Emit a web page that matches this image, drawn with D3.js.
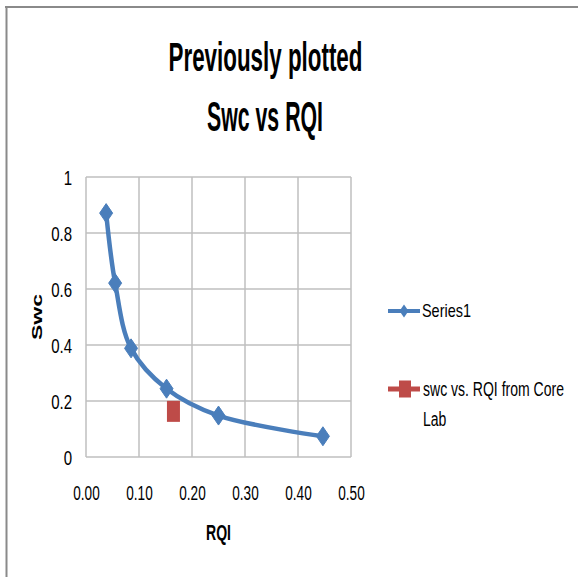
<!DOCTYPE html>
<html>
<head>
<meta charset="utf-8">
<script src="https://cdn.jsdelivr.net/npm/d3@7"></script>
<style>
  html, body { margin: 0; padding: 0; background: #fff; }
  svg { display: block; }
  text { font-family: "Liberation Sans", Arial, sans-serif; fill: #000; }
</style>
</head>
<body>
<svg id="chart" width="578" height="577"></svg>
<script>
// Swc vs RQI curve (Series1)
const rqiValues = [0.038, 0.055, 0.085, 0.152, 0.250, 0.447];
const swcValues = [0.871, 0.621, 0.388, 0.244, 0.148, 0.074];

// Core lab measurement
const coreRqi = [0.165];
const coreSwc = [0.163];

// Axis ticks
const xTicks = [0, 0.1, 0.2, 0.3, 0.4, 0.5];
const yTicks = [0, 0.2, 0.4, 0.6, 0.8, 1];

const titleLines = ["Previously plotted", "Swc vs RQI"];
const legendNames = ["Series1", "swc vs. RQI from Core Lab"];

const blue = "#4A7EBB";
const red = "#BE4B48";
const gridColor = "#BFBFBF";

const svg = d3.select("#chart");

// chart frame (top and left edges)
svg.append("line").attr("x1", 5).attr("x2", 578).attr("y1", 7).attr("y2", 7)
  .attr("stroke", "#8a8a8a").attr("stroke-width", 2);
svg.append("line").attr("x1", 6.5).attr("x2", 6.5).attr("y1", 6).attr("y2", 577)
  .attr("stroke", "#8a8a8a").attr("stroke-width", 2);

const x = d3.scaleLinear().domain([0, 0.5]).range([86, 351]);
const y = d3.scaleLinear().domain([0, 1]).range([457, 177]);

// stretch a text vertically about its own baseline point
function stretchY(sel, sy) {
  sel.each(function () {
    const t = d3.select(this);
    const tx = +t.attr("x") || 0, ty = +t.attr("y") || 0;
    t.attr("transform", `translate(${tx},${ty}) scale(1,${sy}) translate(${-tx},${-ty})`);
  });
}

// size a text to a given width, then stretch it to a given cap height
function fit(sel, width, cap) {
  let fs = 0;
  sel.each(function () {
    const t = d3.select(this).attr("font-size", 100);
    const len = this.getComputedTextLength();
    fs = 100 * width / len;
    t.attr("font-size", fs);
  });
  stretchY(sel, cap / (0.7 * fs));
  return fs;
}

// title
fit(svg.append("text").attr("x", 265.5).attr("y", 71).attr("text-anchor", "middle")
  .attr("font-weight", "bold").text(titleLines[0]), 194, 28);
fit(svg.append("text").attr("x", 265).attr("y", 131).attr("text-anchor", "middle")
  .attr("font-weight", "bold").text(titleLines[1]), 116, 29.5);

// gridlines
const grid = svg.append("g");
grid.selectAll("line.v").data(xTicks).join("line").attr("class", "v")
  .attr("x1", d => x(d)).attr("x2", d => x(d))
  .attr("y1", y(1)).attr("y2", y(0))
  .attr("stroke", gridColor).attr("stroke-width", 1.5);
grid.selectAll("line.h").data(yTicks).join("line").attr("class", "h")
  .attr("x1", x(0)).attr("x2", x(0.5))
  .attr("y1", d => y(d)).attr("y2", d => y(d))
  .attr("stroke", gridColor).attr("stroke-width", 1.5);

// axes (labels only, built from the scales)
const xAxis = svg.append("g").attr("transform", `translate(0,${y(0)})`)
  .call(d3.axisBottom(x).tickValues(xTicks).tickFormat(d3.format(".2f")).tickSize(0).tickPadding(0));
xAxis.select(".domain").remove();
xAxis.selectAll("text").attr("font-size", 13.6).attr("dy", 0).attr("y", 43)
  .style("font-family", '"Liberation Sans", Arial, sans-serif').attr("fill", "#000");
stretchY(xAxis.selectAll("text"), 1.55);

const yAxis = svg.append("g").attr("transform", `translate(72,0)`)
  .call(d3.axisLeft(y).tickValues(yTicks).tickFormat(d => String(+d.toFixed(1))).tickSize(0).tickPadding(0));
yAxis.select(".domain").remove();
yAxis.selectAll("text").attr("font-size", 15).attr("dy", 0).attr("x", 0).attr("y", 7)
  .style("font-family", '"Liberation Sans", Arial, sans-serif').attr("fill", "#000");
stretchY(yAxis.selectAll("text"), 1.32);

// axis titles
fit(svg.append("text").attr("x", (x(0) + x(0.5)) / 2).attr("y", 540).attr("text-anchor", "middle")
  .attr("font-weight", "bold").text("RQI"), 25, 15);
svg.append("text").attr("transform", `translate(42,${(y(0) + y(1)) / 2}) rotate(-90)`)
  .attr("text-anchor", "middle").attr("font-size", 14.5).attr("font-weight", "bold")
  .attr("textLength", 46).attr("lengthAdjust", "spacingAndGlyphs")
  .text("Swc");

// Series1 smoothed line
const pts = rqiValues.map((r, i) => [r, swcValues[i]]);
const line = d3.line().x(d => x(d[0])).y(d => y(d[1])).curve(d3.curveCatmullRom.alpha(0.5));
svg.append("path").attr("d", line(pts)).attr("fill", "none")
  .attr("stroke", blue).attr("stroke-width", 4.5).attr("stroke-linejoin", "round");

function diamond(w, h) {
  return `M0,${-h / 2}L${w / 2},0L0,${h / 2}L${-w / 2},0Z`;
}
svg.selectAll("path.mk").data(pts).join("path").attr("class", "mk")
  .attr("transform", d => `translate(${x(d[0])},${y(d[1])})`)
  .attr("d", diamond(13, 19)).attr("fill", blue).attr("stroke", blue).attr("stroke-width", 1);

// Core lab point
const corePts = coreRqi.map((r, i) => [r, coreSwc[i]]);
svg.selectAll("rect.core").data(corePts).join("rect").attr("class", "core")
  .attr("x", d => x(d[0]) - 6.5).attr("y", d => y(d[1]) - 10.5)
  .attr("width", 13).attr("height", 21).attr("fill", red);

// legend
const lg = svg.append("g");
lg.append("line").attr("x1", 388).attr("x2", 420).attr("y1", 311).attr("y2", 311)
  .attr("stroke", blue).attr("stroke-width", 4);
lg.append("path").attr("transform", "translate(404,311)").attr("d", diamond(9, 13)).attr("fill", blue);
fit(lg.append("text").attr("x", 422).attr("y", 317.5).text(legendNames[0]), 49, 13);

lg.append("line").attr("x1", 388).attr("x2", 420).attr("y1", 389).attr("y2", 389)
  .attr("stroke", red).attr("stroke-width", 5);
lg.append("rect").attr("x", 399).attr("y", 380.5).attr("width", 12).attr("height", 17).attr("fill", red);
const words = legendNames[1].split(" ");
const legFs = fit(lg.append("text").attr("x", 423).attr("y", 396.5)
  .text(words.slice(0, -1).join(" ")), 141, 14);
const lab = lg.append("text").attr("x", 423).attr("y", 426.5).attr("font-size", legFs)
  .text(words[words.length - 1]);
stretchY(lab, 14 / (0.7 * legFs));
</script>
</body>
</html>
